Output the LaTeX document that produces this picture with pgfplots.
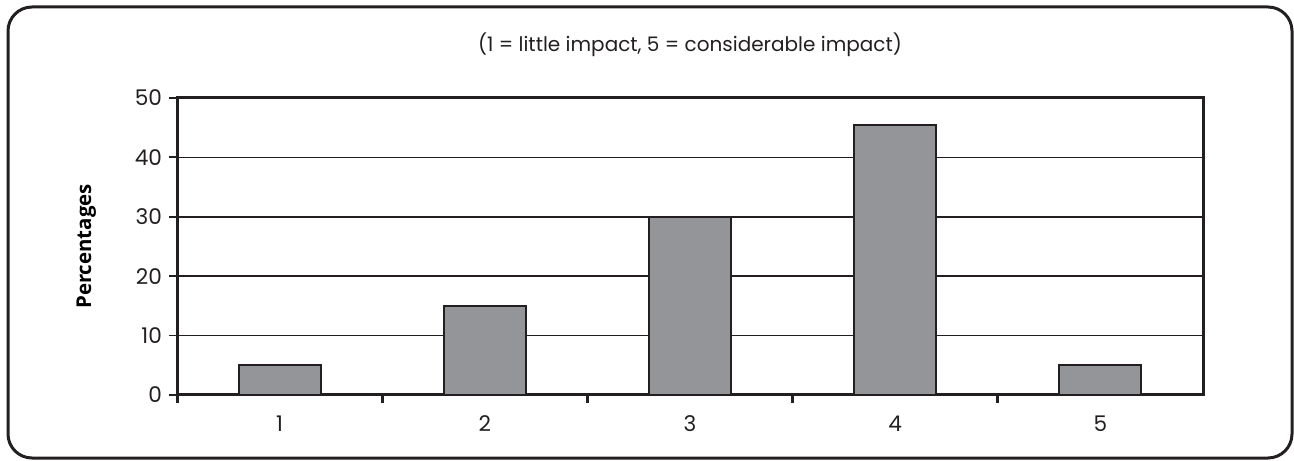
\documentclass[border=0pt]{standalone}
\usepackage{fontspec}
\setmainfont{Poppins}
\newfontfamily\labfont{Open Sans}
\usepackage{pgfplots}
\pgfplotsset{compat=1.18}
\definecolor{barfill}{HTML}{939598}
\definecolor{barline}{HTML}{231F20}
\begin{document}
\begin{tikzpicture}
\path[use as bounding box] (0,0) rectangle (647pt,230pt);
\draw[line width=1.5pt, color=barline, rounded corners=12pt] (4pt,1pt) rectangle (646pt,226.5pt);
\begin{axis}[
  at={(88.5pt,32.5pt)}, anchor=south west,
  scale only axis, width=513pt, height=148.5pt,
  xmin=0.5, xmax=5.5, ymin=0, ymax=50,
  xtick={1,2,3,4,5},
  xticklabels={1,2,3,4,5},
  major x tick style={draw=none},
  minor xtick={0.5,1.5,2.5,3.5,4.5},
  minor x tick style={line width=1.5pt, color=barline},
  ytick={0,10,20,30,40,50},
  y tick style={line width=0.9pt, color=barline},
  xtick pos=bottom, ytick pos=left,
  tick align=outside,
  major tick length=4pt, minor tick length=4pt,
  ymajorgrids,
  grid style={line width=0.8pt, color=barline},
  axis line style={line width=1.5pt, color=barline},
  ylabel={\labfont\bfseries Percentages},
  ylabel style={font=\fontsize{10.2}{12}\selectfont, at={(axis description cs:0,0.5)}, anchor=south, yshift=37pt},
  tick label style={font=\fontsize{10.8}{12}\selectfont, color=barline},
  /pgf/number format/assume math mode=true,
  xticklabel style={yshift=-3pt},
  title={(1 = little impact, 5 = considerable impact)},
  title style={font=\fontsize{10}{12}\selectfont, color=barline, at={(axis description cs:0.5,1)}, anchor=south, yshift=11pt},
]
\addplot[ybar, bar width=41pt, fill=barfill, draw=barline, line width=1pt] coordinates {
  (1,5) (2,15) (3,30) (4,45.5) (5,5)
};
\end{axis}
\end{tikzpicture}
\end{document}
